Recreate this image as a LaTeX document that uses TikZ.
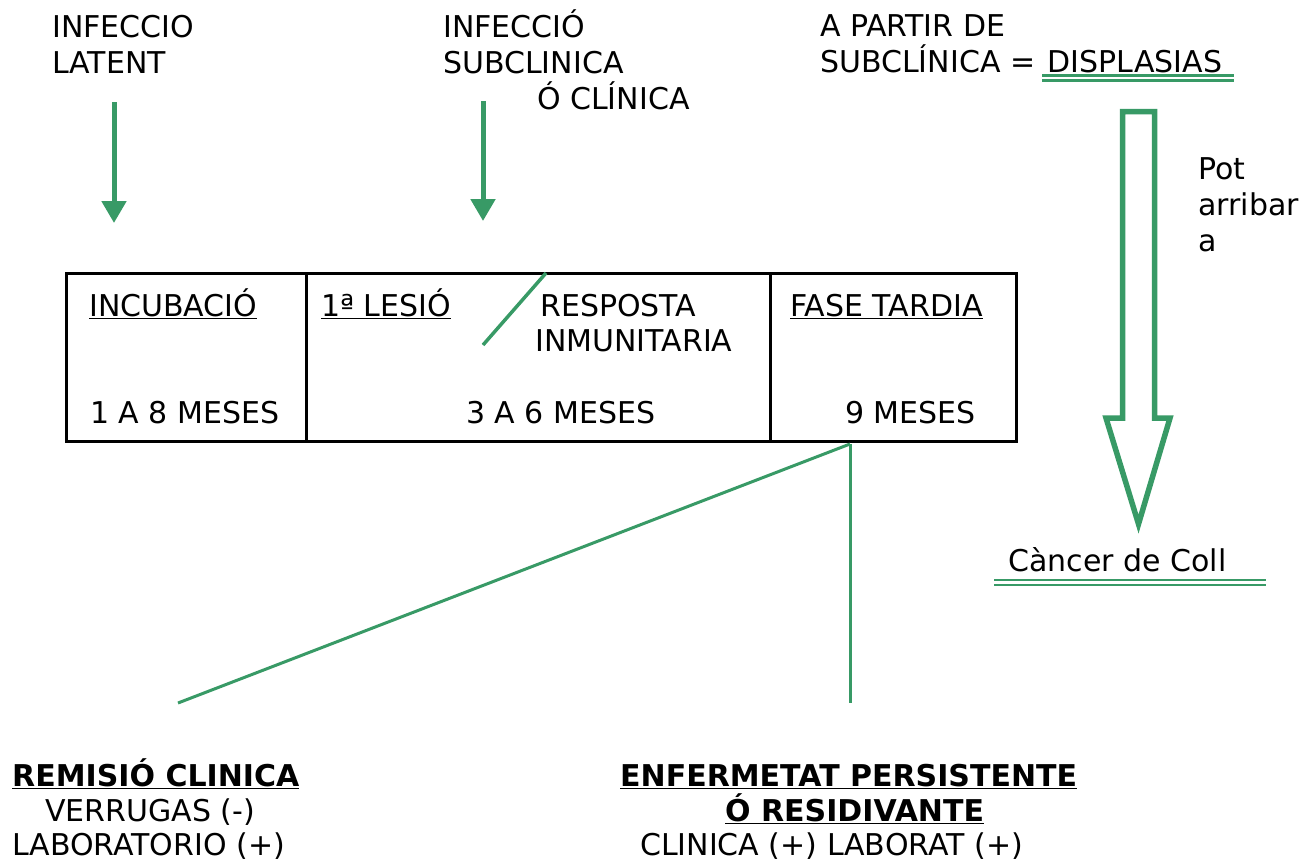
\documentclass[tikz,border=0pt]{standalone}
\usepackage{fontspec}
\setmainfont{DejaVu Sans}
\usepackage{tikz}
\usetikzlibrary{arrows,arrows.meta,positioning,calc}
\definecolor{verd}{RGB}{56,154,102}
\tikzstyle{txt}=[anchor=base west,inner sep=0pt,align=left,font=\fontsize{30}{36}\selectfont]
\tikzstyle{fletxa}=[verd,line width=5pt,-{Triangle[length=22pt,width=24pt]}]
\tikzstyle{linia}=[verd,line width=3pt]
\tikzstyle{doble}=[verd,line width=2.2pt]

\begin{document}
\begin{tikzpicture}[x=1pt,y=-1pt]
\useasboundingbox (0,0) rectangle (1314,860);
% textos de dalt (base = ultima linia)
\node [txt] (latent) at (52,73) {INFECCIO\\LATENT};
\node [txt] (subcl) at (443,109) {INFECCIÓ\\SUBCLINICA\\\hspace*{94pt}Ó CLÍNICA};
\node [txt] (displ) at (820,72) {A PARTIR DE\\SUBCLÍNICA = \hspace*{3pt}DISPLASIAS};
\coordinate (l1) at (114,102);
\coordinate (l2) at (114,223);
\coordinate (s1) at (483,101);
\coordinate (s2) at (483,221);
\draw [fletxa] (l1) -- (l2);
\draw [fletxa] (s1) -- (s2);
\draw [doble] (1042,75.5) -- (1234,75.5);
\draw [doble] (1042,80.5) -- (1234,80.5);

% fletxa buida
\draw [verd,line width=5.5pt,miter limit=20] (1122.5,111.5) -- (1154.5,111.5) -- (1154.5,418)
  -- (1170,418) -- (1138.5,524) -- (1106,418) -- (1122.5,418) -- cycle;
\node [txt] (pot) at (1198,251) {Pot\\arribar\\a};
\node [txt] (cancer) at (1008,571) {Càncer de Coll};
\draw [doble] (994,580) -- (1266,580);
\draw [doble] (994,585) -- (1266,585);

% caixa
\draw [line width=3pt] (66,273) rectangle (1016,441);
\draw [line width=3pt] (306,273) -- (306,441);
\draw [line width=3pt] (770,273) -- (770,441);
\node [txt] (incub) at (89,316) {\underline{INCUBACIÓ}};
\node [txt] (lesio) at (321,316) {\underline{1ª LESIÓ}};
\node [txt] (resp) at (540,316) {RESPOSTA};
\node [txt] (inmu) at (535,351) {INMUNITARIA};
\node [txt] (tardia) at (790,316) {\underline{FASE TARDIA}};
\node [txt] (m1) at (90,423) {1 A 8 MESES};
\node [txt] (m2) at (466,423) {3 A 6 MESES};
\node [txt] (m3) at (845,423) {9 MESES};
\coordinate (b1) at (546,273);
\coordinate (b2) at (483,345);
\draw [verd,line width=3.5pt] (b1) -- (b2);

% branques
\coordinate (fase) at (850,444);
\coordinate (rem) at (178,703);
\coordinate (pers) at (850,703);
\draw [linia] (fase) -- (rem);
\draw [linia] (fase) -- (pers);

% textos de baix
\node [txt] (remisio) at (12,786) {\textbf{\underline{REMISIÓ CLINICA}}};
\node [txt] (verr) at (45,821) {VERRUGAS (-)};
\node [txt] (lab) at (12,855) {LABORATORIO (+)};
\node [txt] (enferm) at (620,786) {\textbf{\underline{ENFERMETAT PERSISTENTE}}};
\node [txt] (resid) at (725,821) {\textbf{\underline{Ó RESIDIVANTE}}};
\node [txt] (clin) at (640,855) {CLINICA (+) LABORAT (+)};
\end{tikzpicture}
\end{document}
